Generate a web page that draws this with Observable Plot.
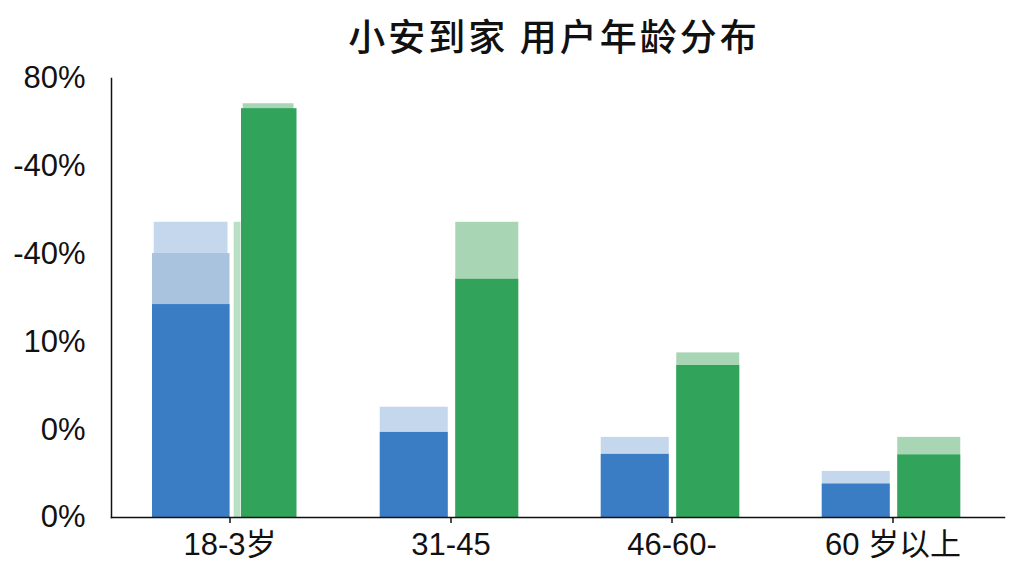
<!DOCTYPE html>
<html>
<head>
<meta charset="utf-8">
<script src="https://cdn.jsdelivr.net/npm/d3@7"></script>
<script src="https://cdn.jsdelivr.net/npm/@observablehq/plot@0.6"></script>
<style>
  html, body { margin: 0; padding: 0; background: #ffffff; }
  #title {
    width: 1024px; box-sizing: border-box; padding-left: 84px;
    height: 56px; line-height: 70px; text-align: center;
    font-family: "Noto Sans CJK SC", sans-serif; font-size: 37px; font-weight: 500; letter-spacing: 3px;
    color: #111; white-space: nowrap;
  }
</style>
</head>
<body>
<div id="title">小安到家 用户年龄分布</div>
<div id="chart"></div>
<script>
// ---- data ----
const categories = ["18-3岁", "31-45", "46-60-", "60 岁以上"];
const blueDark   = [38.8, 15.5, 11.5, 6.1];
const blueMid    = [48.1, null, null, null];
const blueLight  = [53.8, 20.1, 14.6, 8.4];
const greenGhost = [53.8, null, null, null];
const greenDark  = [74.5, 43.4, 27.7, 11.4];
const greenLight = [75.4, 53.8, 30.0, 14.6];
const yTicks      = [0, 16, 32, 48, 64, 80];
const yTickLabels = ["0%", "0%", "10%", "-40%", "-40%", "80%"];

// ---- helpers ----
const rows = (vals) => categories.map((c, i) => ({category: c, value: vals[i]})).filter(d => d.value != null);
const first = (vals) => rows(vals).filter(d => d.category === categories[0]);
const rest = (vals) => rows(vals).filter(d => d.category !== categories[0]);

const C = {
  blueDark: "#3a7dc4", blueMid: "#a9c3df", blueLight: "#c4d7ec",
  greenDark: "#31a35b", greenLight: "#a8d6b5", greenGhost: "#b9e0c4"
};
const font = '"Liberation Sans", Arial, "Noto Sans CJK SC", sans-serif';

const bar = (data, fill, insetLeft, insetRight) =>
  Plot.barY(data, {x: "category", y: "value", fill, insetLeft, insetRight});

const chart = Plot.plot({
  width: 1024,
  height: 520,
  marginLeft: 111,
  marginRight: 20,
  marginTop: 22,
  marginBottom: 59,
  style: {fontFamily: font, fontSize: "31px", color: "#111", background: "#ffffff", overflow: "visible"},
  x: {type: "band", domain: categories, padding: 0, insetLeft: 7},
  y: {domain: [0, 80]},
  marks: [
    // first group (drawn slightly differently in the reference)
    bar(first(blueLight), C.blueLight, 34.7, 112.5),
    bar(first(blueMid), C.blueMid, 33, 110.5),
    bar(first(blueDark), C.blueDark, 33, 110.5),
    bar(first(greenGhost), C.greenGhost, 114.7, 99.5),
    bar(first(greenLight), C.greenLight, 123.7, 46.5),
    bar(first(greenDark), C.greenDark, 122, 43.5),
    // other groups
    bar(rest(blueLight), C.blueLight, 39.75, 113.25),
    bar(rest(blueDark), C.blueDark, 39.75, 113.25),
    bar(rest(greenLight), C.greenLight, 115.25, 42.75),
    bar(rest(greenDark), C.greenDark, 115.25, 42.75),
    // axes
    Plot.frame({anchor: "left", stroke: "#111", strokeWidth: 1.5}),
    Plot.frame({anchor: "bottom", stroke: "#111", strokeWidth: 1.5}),
    Plot.axisX({tickSize: 6, tickPadding: 9, fontSize: 31, label: null, stroke: "#111", strokeWidth: 1.5}),
    Plot.axisY({ticks: yTicks, tickFormat: d => yTickLabels[yTicks.indexOf(d)], tickSize: 0, tickPadding: 26, fontSize: 31, label: null})
  ]
});
document.getElementById("chart").appendChild(chart);
</script>
</body>
</html>
